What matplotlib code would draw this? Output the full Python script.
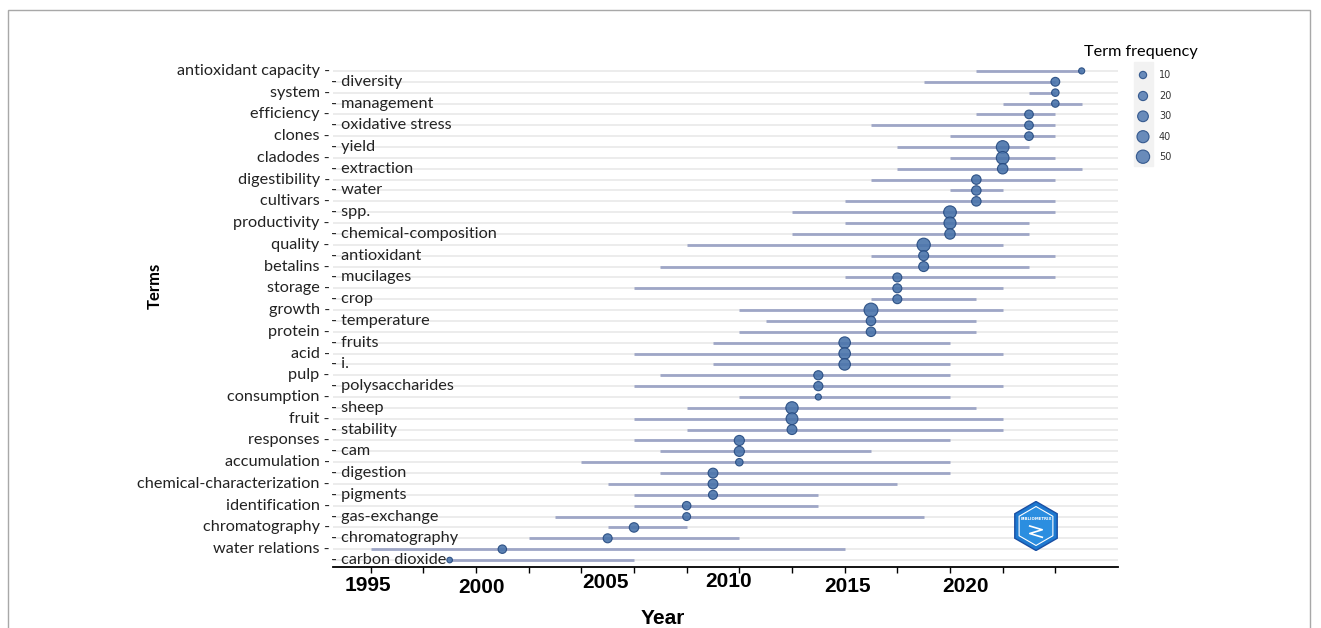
import numpy as np
import matplotlib.pyplot as plt
from matplotlib.patches import Rectangle, RegularPolygon

# Dati: termini (dall'alto in basso), quartili degli anni e frequenza
terms = ["antioxidant capacity", "diversity", "system", "management", "efficiency",
         "oxidative stress", "clones", "yield", "cladodes", "extraction",
         "digestibility", "water", "cultivars", "spp.", "productivity",
         "chemical-composition", "quality", "antioxidant", "betalins", "mucilages",
         "storage", "crop", "growth", "temperature", "protein", "fruits", "acid",
         "i.", "pulp", "polysaccharides", "consumption", "sheep", "fruit",
         "stability", "responses", "cam", "accumulation", "digestion",
         "chemical-characterization", "pigments", "identification", "gas-exchange",
         "chromatography", "chromatography", "water relations", "carbon dioxide"]
year_q1 = [2018, 2016, 2020, 2019, 2018, 2014, 2017, 2015, 2017, 2015, 2014, 2017,
           2013, 2011, 2013, 2011, 2007, 2014, 2006, 2013, 2005, 2014, 2009, 2010,
           2009, 2008, 2005, 2008, 2006, 2005, 2009, 2007, 2005, 2007, 2005, 2006,
           2003, 2006, 2004, 2005, 2005, 2002, 2004, 2001, 1995, 1998]
year_med = [2022, 2021, 2021, 2021, 2020, 2020, 2020, 2019, 2019, 2019, 2018, 2018,
            2018, 2017, 2017, 2017, 2016, 2016, 2016, 2015, 2015, 2015, 2014, 2014,
            2014, 2013, 2013, 2013, 2012, 2012, 2012, 2011, 2011, 2011, 2009, 2009,
            2009, 2008, 2008, 2008, 2007, 2007, 2005, 2004, 2000, 1998]
year_q3 = [2022, 2021, 2021, 2022, 2021, 2021, 2021, 2020, 2021, 2022, 2021, 2019,
           2021, 2021, 2020, 2020, 2019, 2021, 2020, 2021, 2019, 2018, 2019, 2018,
           2018, 2017, 2019, 2017, 2017, 2019, 2017, 2018, 2019, 2019, 2017, 2014,
           2017, 2017, 2015, 2012, 2012, 2016, 2007, 2009, 2013, 2005]
freq = [5, 18, 11, 11, 17, 17, 17, 45, 45, 28, 22, 22, 22, 45, 40, 28, 50, 25, 25,
        19, 19, 19, 55, 22, 22, 36, 36, 36, 20, 20, 5, 42, 38, 24, 26, 26, 11, 24,
        24, 19, 16, 13, 22, 19, 16, 3]
legend_vals = [10, 20, 30, 40, 50]
year_labels = ["1995", "2000", "2005", "2010", "2015", "2020"]
year_label_pos = [1994.9, 1999.2, 2003.9, 2008.6, 2013.1, 2017.6]

lab_font = "Lato"
W, H = 1321, 628

def bsize(f):
    return 0.5184 * (22 + 3.1 * np.asarray(f))

fig = plt.figure(figsize=(W / 100, H / 100), dpi=100)
ax = fig.add_axes([333 / W, 1 - 567 / H, (1118 - 333) / W, (567 - 64.5) / H])

n = len(terms)
y = np.arange(n)[::-1]

ax.hlines(y, year_q1, year_q3, color="#9ea6c6", lw=2.0, zorder=2)
ax.scatter(year_med, y, s=bsize(freq), facecolor="#4a74ab", edgecolor="#24497f",
           lw=0.8, alpha=0.9, zorder=4)

ax.set_xlim(1993.57, 2023.38)
ax.set_ylim(-0.64, 45.59)
ax.set_xticks(np.arange(1995, 2022, 2))
ax.set_xticklabels([])
ax.set_yticks(y)
ax.set_yticklabels([])
ax.tick_params(axis="y", length=0)
ax.tick_params(axis="x", length=4, width=1, color="black")
ax.yaxis.grid(True, color="#ebebeb", lw=1.3, zorder=0)
ax.set_axisbelow(True)
for s in ["top", "right", "left"]:
    ax.spines[s].set_visible(False)
ax.spines["bottom"].set_linewidth(1.3)

# etichette dei termini, sfalsate a sinistra / a destra dell'asse
tr = ax.get_yaxis_transform()
for i, t in enumerate(terms):
    if i % 2 == 0:
        ax.text(-0.004, y[i], t + " -", transform=tr, ha="right", va="center",
                fontsize=11.7, family=lab_font, color="#222222", zorder=3)
    else:
        ax.text(-0.002, y[i], "- " + t, transform=tr, ha="left", va="center",
                fontsize=11.7, family=lab_font, color="#222222", zorder=3)

# etichette degli anni (grandi, in grassetto)
xtr = ax.get_xaxis_transform()
for lab, xp, dy in zip(year_labels, year_label_pos, [585.7, 587.7, 583, 581.7, 587, 586]):
    ax.text(xp, 1 - (dy - 64.5) / 502.5, lab, transform=xtr, ha="center", va="center",
            fontsize=15, fontweight="bold", family="Liberation Sans")
fig.text(662.5 / W, 1 - 618 / H, "Year", ha="center", va="center", fontsize=15,
         fontweight="bold", family="Liberation Sans")
fig.text(155 / W, 1 - 286 / H, "Terms", ha="center", va="center", rotation=90,
         fontsize=12, fontweight="bold", family=lab_font)

# legenda
fig.text(1141 / W, 1 - 52 / H, "Term frequency", ha="center", va="center",
         fontsize=11.7, family=lab_font)
lax = fig.add_axes([1130 / W, 1 - 168 / H, 60 / W, 108 / H])
lax.set_xlim(1130, 1190)
lax.set_ylim(168, 60)
lax.axis("off")
lax.add_patch(Rectangle((1134, 62), 18.5, 104, color="#f2f2f2", zorder=0))
leg_y = [75, 96, 116.3, 136.7, 156.7]
lax.scatter([1143] * len(legend_vals), leg_y, s=bsize(legend_vals), facecolor="#5a80b4",
            edgecolor="#2a5088", lw=0.8, alpha=0.9, zorder=2)
for v, yy in zip(legend_vals, leg_y):
    lax.text(1159, yy, str(v), ha="left", va="center", fontsize=7, color="#333333")

# logo
gax = fig.add_axes([(1036 - 25) / W, 1 - (526 + 25) / H, 50 / W, 50 / H])
gax.set_xlim(-1, 1)
gax.set_ylim(-1, 1)
gax.axis("off")
gax.add_patch(RegularPolygon((0, 0), 6, radius=0.98, facecolor="#1d79d0", edgecolor="#1a4fa3", lw=1))
gax.add_patch(RegularPolygon((0, 0), 6, radius=0.78, facecolor="#2b8ee0", edgecolor="white", lw=0.8))
gax.text(0, 0.3, "BIBLIOMETRIX", ha="center", va="center", fontsize=2.8,
         color="white", fontweight="bold")
gax.plot([-0.25, 0.25, -0.25, 0.25], [0.0, -0.15, -0.3, -0.45], color="white", lw=1.2)

# cornice grigia
fig.patches.append(Rectangle((7.5 / W, -0.1), (1310 - 7.5) / W, 1.1 - 10 / H,
                             transform=fig.transFigure, fill=False,
                             edgecolor="#a8a8a8", lw=1))

fig.savefig("out.png", dpi=100)
